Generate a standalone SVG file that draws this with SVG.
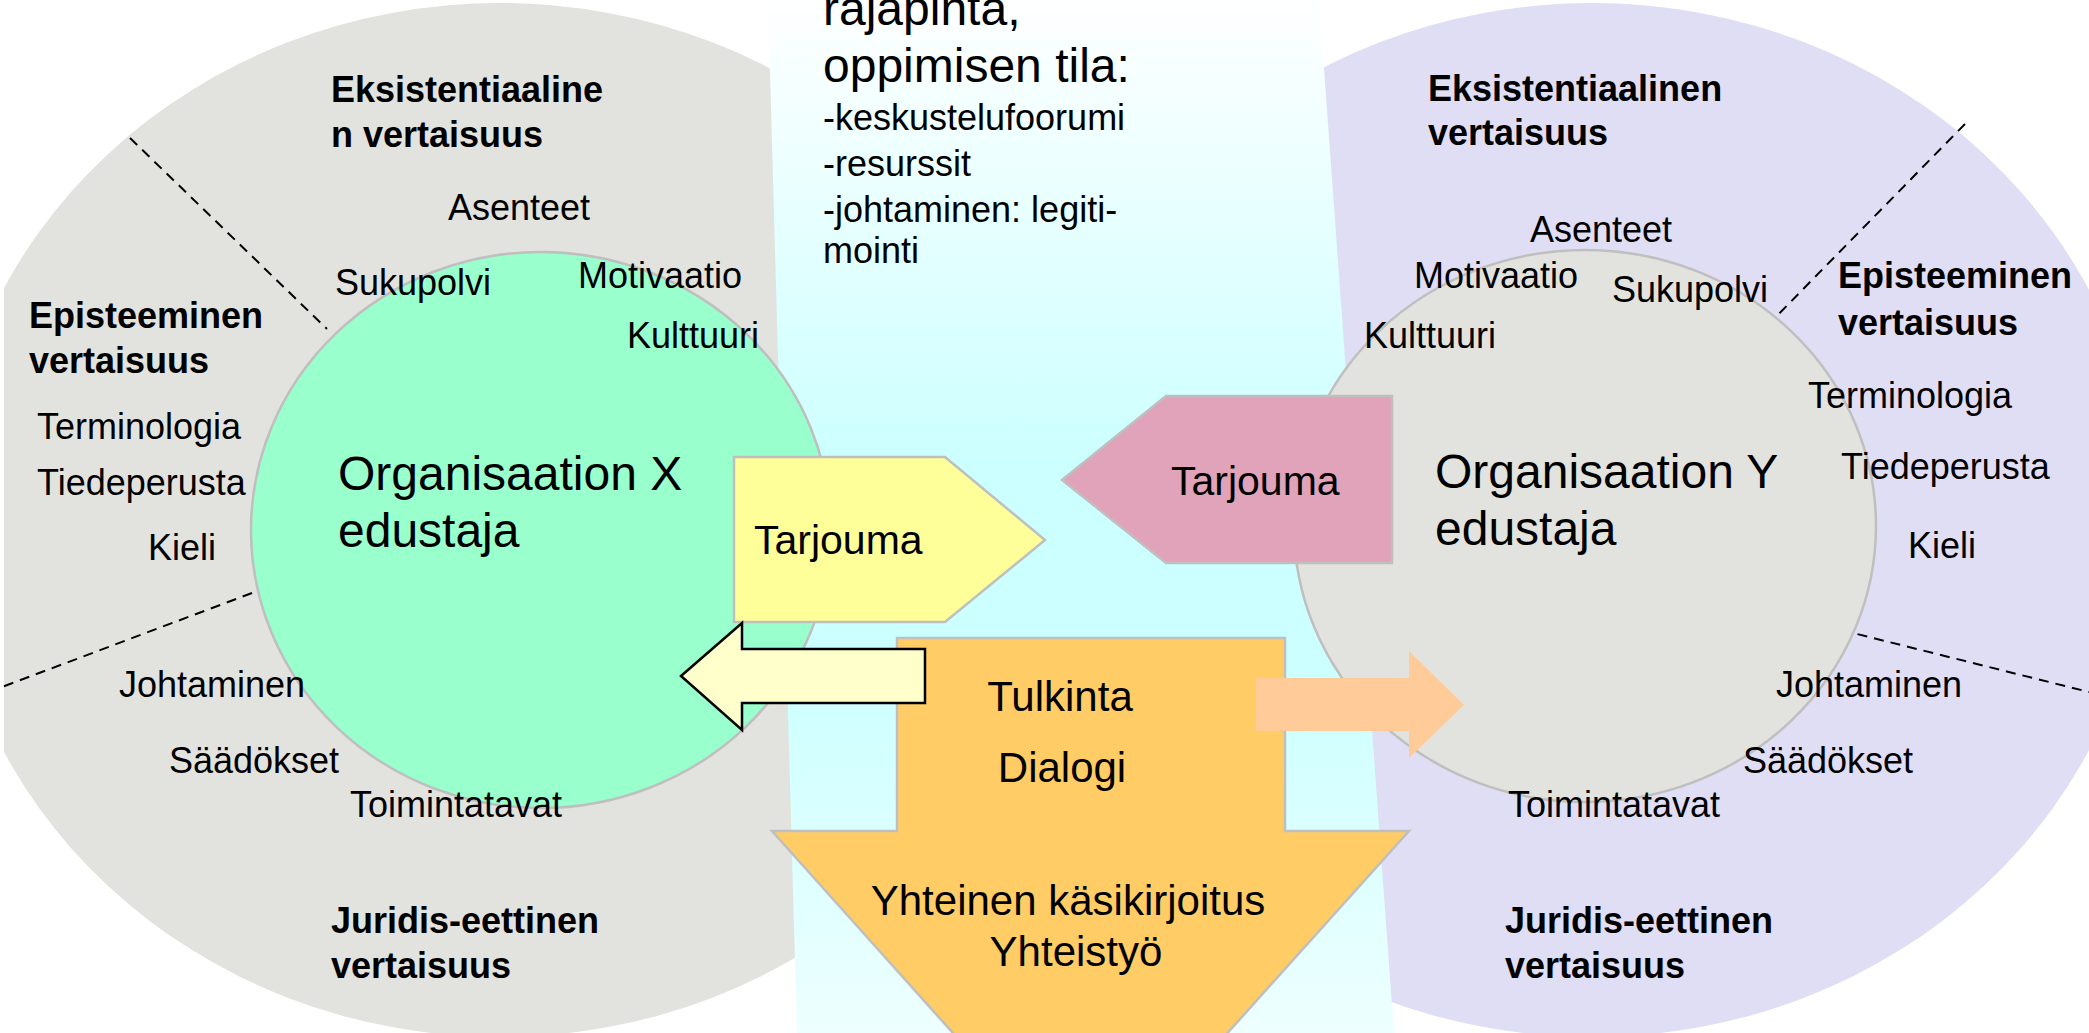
<svg xmlns="http://www.w3.org/2000/svg" width="2089" height="1033" viewBox="0 0 2089 1033">
<style>
text{font-family:"Liberation Sans",Arial,sans-serif;fill:#000}
.r{font-size:36px}
.b{font-size:36px;font-weight:bold}
.big{font-size:48px}
.t{font-size:41px}
.o{font-size:42px}
.inner{stroke:#bfbfbf;stroke-width:2.5}
.dash{stroke:#000;stroke-width:2;stroke-dasharray:10 7;fill:none}
.shape{stroke:#bfbfbf;stroke-width:2.5}
</style>
<defs>
<linearGradient id="bandGrad" x1="0" y1="0" x2="0" y2="1033" gradientUnits="userSpaceOnUse">
<stop offset="0" stop-color="#ffffff"/>
<stop offset="0.45" stop-color="#ccffff"/>
<stop offset="0.65" stop-color="#ccffff"/>
<stop offset="1" stop-color="#eeffff"/>
</linearGradient>
<clipPath id="leftClip"><rect x="4" y="0" width="1000" height="1033"/></clipPath>
</defs>

<g id="outer-left">
<ellipse cx="500" cy="520" rx="555" ry="517" fill="#e2e3de" clip-path="url(#leftClip)"/>
</g>
<g id="outer-right">
<ellipse cx="1592" cy="520" rx="555" ry="517" fill="#e0def4"/>
</g>
<g id="band">
<polygon points="768,0 1319,0 1394,1033 797,1033" fill="url(#bandGrad)"/>
</g>

<g id="dividers">
<line class="dash" x1="130" y1="138" x2="327" y2="329"/>
<line class="dash" x1="252" y1="593" x2="2" y2="687"/>
<line class="dash" x1="1965" y1="124" x2="1765" y2="328"/>
<line class="dash" x1="1841" y1="630" x2="2089" y2="692"/>
</g>

<g id="org-x">
<ellipse class="inner" cx="541" cy="530" rx="290" ry="278" fill="#99ffcc"/>
<text class="big" x="338" y="490">Organisaation X</text>
<text class="big" x="338" y="547">edustaja</text>
</g>
<g id="org-y">
<ellipse class="inner" cx="1585" cy="526" rx="291" ry="276" fill="#e2e3de"/>
<text class="big" x="1435" y="488">Organisaation Y</text>
<text class="big" x="1435" y="545">edustaja</text>
</g>

<g id="connectors">
<g id="tarjouma-x">
<polygon class="shape" points="734,457 945,457 1045,540 945,622 734,622" fill="#ffff99"/>
<text class="t" x="754" y="554">Tarjouma</text>
</g>
<g id="tarjouma-y">
<polygon class="shape" points="1062,480 1166,396 1392,396 1392,563 1166,563" fill="#e0a3ba"/>
<text class="t" x="1171" y="495">Tarjouma</text>
</g>
<g id="shared-arrow">
<polygon class="shape" points="897,638 1285,638 1285,831 1409,831 1090,1186 772,831 897,831" fill="#ffcc66"/>
<text class="o" x="1060" y="711" text-anchor="middle">Tulkinta</text>
<text class="o" x="1062" y="782" text-anchor="middle">Dialogi</text>
<text class="o" x="1068" y="915" text-anchor="middle">Yhteinen käsikirjoitus</text>
<text class="o" x="1076" y="966" text-anchor="middle">Yhteistyö</text>
</g>
<polygon id="back-to-x" points="681,676 742,623 742,649 925,649 925,703 742,703 742,730" fill="#ffffcc" stroke="#000" stroke-width="2.5"/>
<polygon id="to-y" points="1256,678 1409,678 1409,651 1464,705 1409,758 1409,731 1256,731" fill="#ffcc99"/>
</g>

<g id="band-text">
<text class="big" x="823" y="25">rajapinta,</text>
<text class="big" x="823" y="82">oppimisen tila:</text>
<text class="r" x="823" y="130">-keskustelufoorumi</text>
<text class="r" x="823" y="176">-resurssit</text>
<text class="r" x="823" y="222">-johtaminen: legiti-</text>
<text class="r" x="823" y="263">mointi</text>
</g>

<g id="left-labels">
<text class="b" x="331" y="102">Eksistentiaaline</text>
<text class="b" x="331" y="147">n vertaisuus</text>
<text class="r" x="448" y="220">Asenteet</text>
<text class="r" x="335" y="295">Sukupolvi</text>
<text class="r" x="578" y="288">Motivaatio</text>
<text class="r" x="627" y="348">Kulttuuri</text>
<text class="b" x="29" y="328">Episteeminen</text>
<text class="b" x="29" y="373">vertaisuus</text>
<text class="r" x="37" y="439">Terminologia</text>
<text class="r" x="37" y="495">Tiedeperusta</text>
<text class="r" x="148" y="560">Kieli</text>
<text class="r" x="119" y="697">Johtaminen</text>
<text class="r" x="169" y="773">Säädökset</text>
<text class="r" x="350" y="817">Toimintatavat</text>
<text class="b" x="331" y="933">Juridis-eettinen</text>
<text class="b" x="331" y="978">vertaisuus</text>
</g>

<g id="right-labels">
<text class="b" x="1428" y="101">Eksistentiaalinen</text>
<text class="b" x="1428" y="145">vertaisuus</text>
<text class="r" x="1530" y="242">Asenteet</text>
<text class="r" x="1414" y="288">Motivaatio</text>
<text class="r" x="1612" y="302">Sukupolvi</text>
<text class="r" x="1364" y="348">Kulttuuri</text>
<text class="b" x="1838" y="288">Episteeminen</text>
<text class="b" x="1838" y="335">vertaisuus</text>
<text class="r" x="1808" y="408">Terminologia</text>
<text class="r" x="1841" y="479">Tiedeperusta</text>
<text class="r" x="1908" y="558">Kieli</text>
<text class="r" x="1776" y="697">Johtaminen</text>
<text class="r" x="1743" y="773">Säädökset</text>
<text class="r" x="1508" y="817">Toimintatavat</text>
<text class="b" x="1505" y="933">Juridis-eettinen</text>
<text class="b" x="1505" y="978">vertaisuus</text>
</g>
</svg>
